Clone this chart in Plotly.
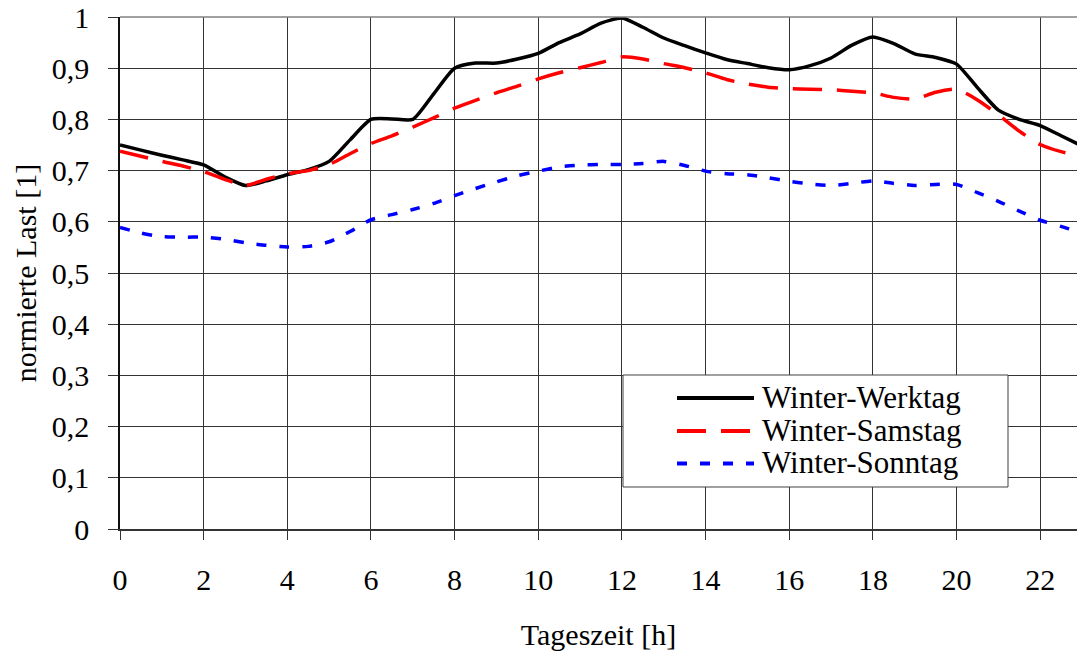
import plotly.graph_objects as go

hours = [0, 0.5, 1, 1.5, 2, 2.5, 3, 3.5, 4, 4.5, 5, 5.5, 6, 6.5, 7, 7.5, 8, 8.5,
         9, 9.5, 10, 10.5, 11, 11.5, 12, 12.5, 13, 13.5, 14, 14.5, 15, 15.5,
         16, 16.5, 17, 17.5, 18, 18.5, 19, 19.5, 20, 20.5, 21, 21.5, 22, 22.5, 23]

werktag = [0.750, 0.740, 0.730, 0.721, 0.711, 0.688, 0.671, 0.680, 0.692, 0.702,
           0.718, 0.760, 0.800, 0.801, 0.800, 0.850, 0.900, 0.910, 0.910, 0.918,
           0.929, 0.950, 0.967, 0.988, 0.998, 0.980, 0.959, 0.944, 0.930, 0.917,
           0.909, 0.901, 0.897, 0.905, 0.920, 0.945, 0.961, 0.948, 0.928, 0.921,
           0.908, 0.862, 0.818, 0.800, 0.788, 0.768, 0.748]

samstag = [0.738, 0.728, 0.718, 0.709, 0.698, 0.683, 0.671, 0.683, 0.694, 0.700,
           0.712, 0.733, 0.753, 0.768, 0.785, 0.803, 0.822, 0.837, 0.852, 0.865,
           0.879, 0.891, 0.901, 0.911, 0.922, 0.918, 0.909, 0.901, 0.891, 0.878,
           0.869, 0.863, 0.860, 0.859, 0.858, 0.855, 0.852, 0.843, 0.840, 0.853,
           0.859, 0.838, 0.809, 0.777, 0.751, 0.737, 0.728]

sonntag = [0.589, 0.578, 0.571, 0.570, 0.570, 0.566, 0.559, 0.554, 0.551, 0.552,
           0.561, 0.581, 0.604, 0.614, 0.624, 0.636, 0.651, 0.665, 0.678, 0.690,
           0.699, 0.707, 0.711, 0.712, 0.712, 0.714, 0.718, 0.710, 0.699, 0.694,
           0.692, 0.686, 0.679, 0.674, 0.671, 0.675, 0.680, 0.675, 0.671, 0.673,
           0.673, 0.657, 0.640, 0.621, 0.603, 0.591, 0.578]

series_names = ["Winter-Werktag", "Winter-Samstag", "Winter-Sonntag"]
series_values = [werktag, samstag, sonntag]
series_colors = ["#000000", "#ff0000", "#0000ff"]
series_dash = ["solid", "29px,15px", "10px,13px"]

x_ticks = [0, 2, 4, 6, 8, 10, 12, 14, 16, 18, 20, 22]
y_ticks = [0, 0.1, 0.2, 0.3, 0.4, 0.5, 0.6, 0.7, 0.8, 0.9, 1]
y_ticktext = ["0", "0,1", "0,2", "0,3", "0,4", "0,5", "0,6", "0,7", "0,8", "0,9", "1"]

FONT = "Liberation Serif, Times New Roman, serif"
FS = 30

fig = go.Figure()
for name, vals, col, dash in zip(series_names, series_values, series_colors, series_dash):
    fig.add_trace(go.Scatter(x=hours, y=vals, mode="lines", name=name,
                             line=dict(color=col, width=3.5, dash=dash, shape="spline", smoothing=0.6),
                             showlegend=False, cliponaxis=True))

# custom legend box
W, H = 1077, 657
L, R, T, B = 120, 0, 17, 128
pw, ph = W - L - R, H - T - B

def px(xp):
    return (xp - L) / pw

def py(yp):
    return (H - B - yp) / ph

shapes = [dict(type="rect", xref="paper", yref="paper",
               x0=px(623), x1=px(1008), y0=py(487), y1=py(375),
               line=dict(color="#404040", width=1), fillcolor="white", layer="above")]
annotations = []
rows = [398, 431, 463.5]
for name, col, dash, yy in zip(series_names, series_colors, series_dash, rows):
    shapes.append(dict(type="line", xref="paper", yref="paper",
                       x0=px(677), x1=px(754), y0=py(yy), y1=py(yy),
                       line=dict(color=col, width=4, dash=dash), layer="above"))
    annotations.append(dict(x=px(760), y=py(yy - 1), xref="paper", yref="paper",
                            text=name, showarrow=False, xanchor="left", yanchor="middle",
                            font=dict(family=FONT, size=31, color="black")))

fig.update_layout(
    width=W, height=H,
    margin=dict(l=L, r=R, t=T, b=B, autoexpand=False),
    paper_bgcolor="white", plot_bgcolor="white",
    font=dict(family=FONT, size=FS, color="black"),
    shapes=shapes, annotations=annotations,
    showlegend=False,
)
fig.update_xaxes(range=[0, 22.88], tickvals=x_ticks, ticks="outside", ticklen=9,
                 tickcolor="#333333", showgrid=True, gridcolor="#333333", gridwidth=1,
                 showline=True, linecolor="#333333", linewidth=1.5, zeroline=False,
                 automargin=False,
                 title=dict(text="Tageszeit [h]", standoff=29,
                            font=dict(family=FONT, size=FS)),
                 ticklabelstandoff=14)
fig.update_yaxes(range=[0, 1], tickvals=y_ticks, ticktext=y_ticktext, ticks="outside",
                 ticklen=10, tickcolor="#333333", showgrid=True, gridcolor="#333333",
                 gridwidth=1, showline=True, linecolor="#111111", linewidth=1.5,
                 zeroline=False, mirror=False, automargin=False,
                 title=dict(text="normierte Last [1]", standoff=6,
                            font=dict(family=FONT, size=FS)),
                 ticklabelstandoff=13)
# top frame line (gray)
fig.add_shape(type="line", xref="paper", yref="paper", x0=0, x1=1, y0=1, y1=1,
              line=dict(color="#808080", width=1.5), layer="above")

fig.write_html("out.html", config={"displayModeBar": False},
               post_script="document.body.style.margin='0px';document.body.style.padding='0px';")
